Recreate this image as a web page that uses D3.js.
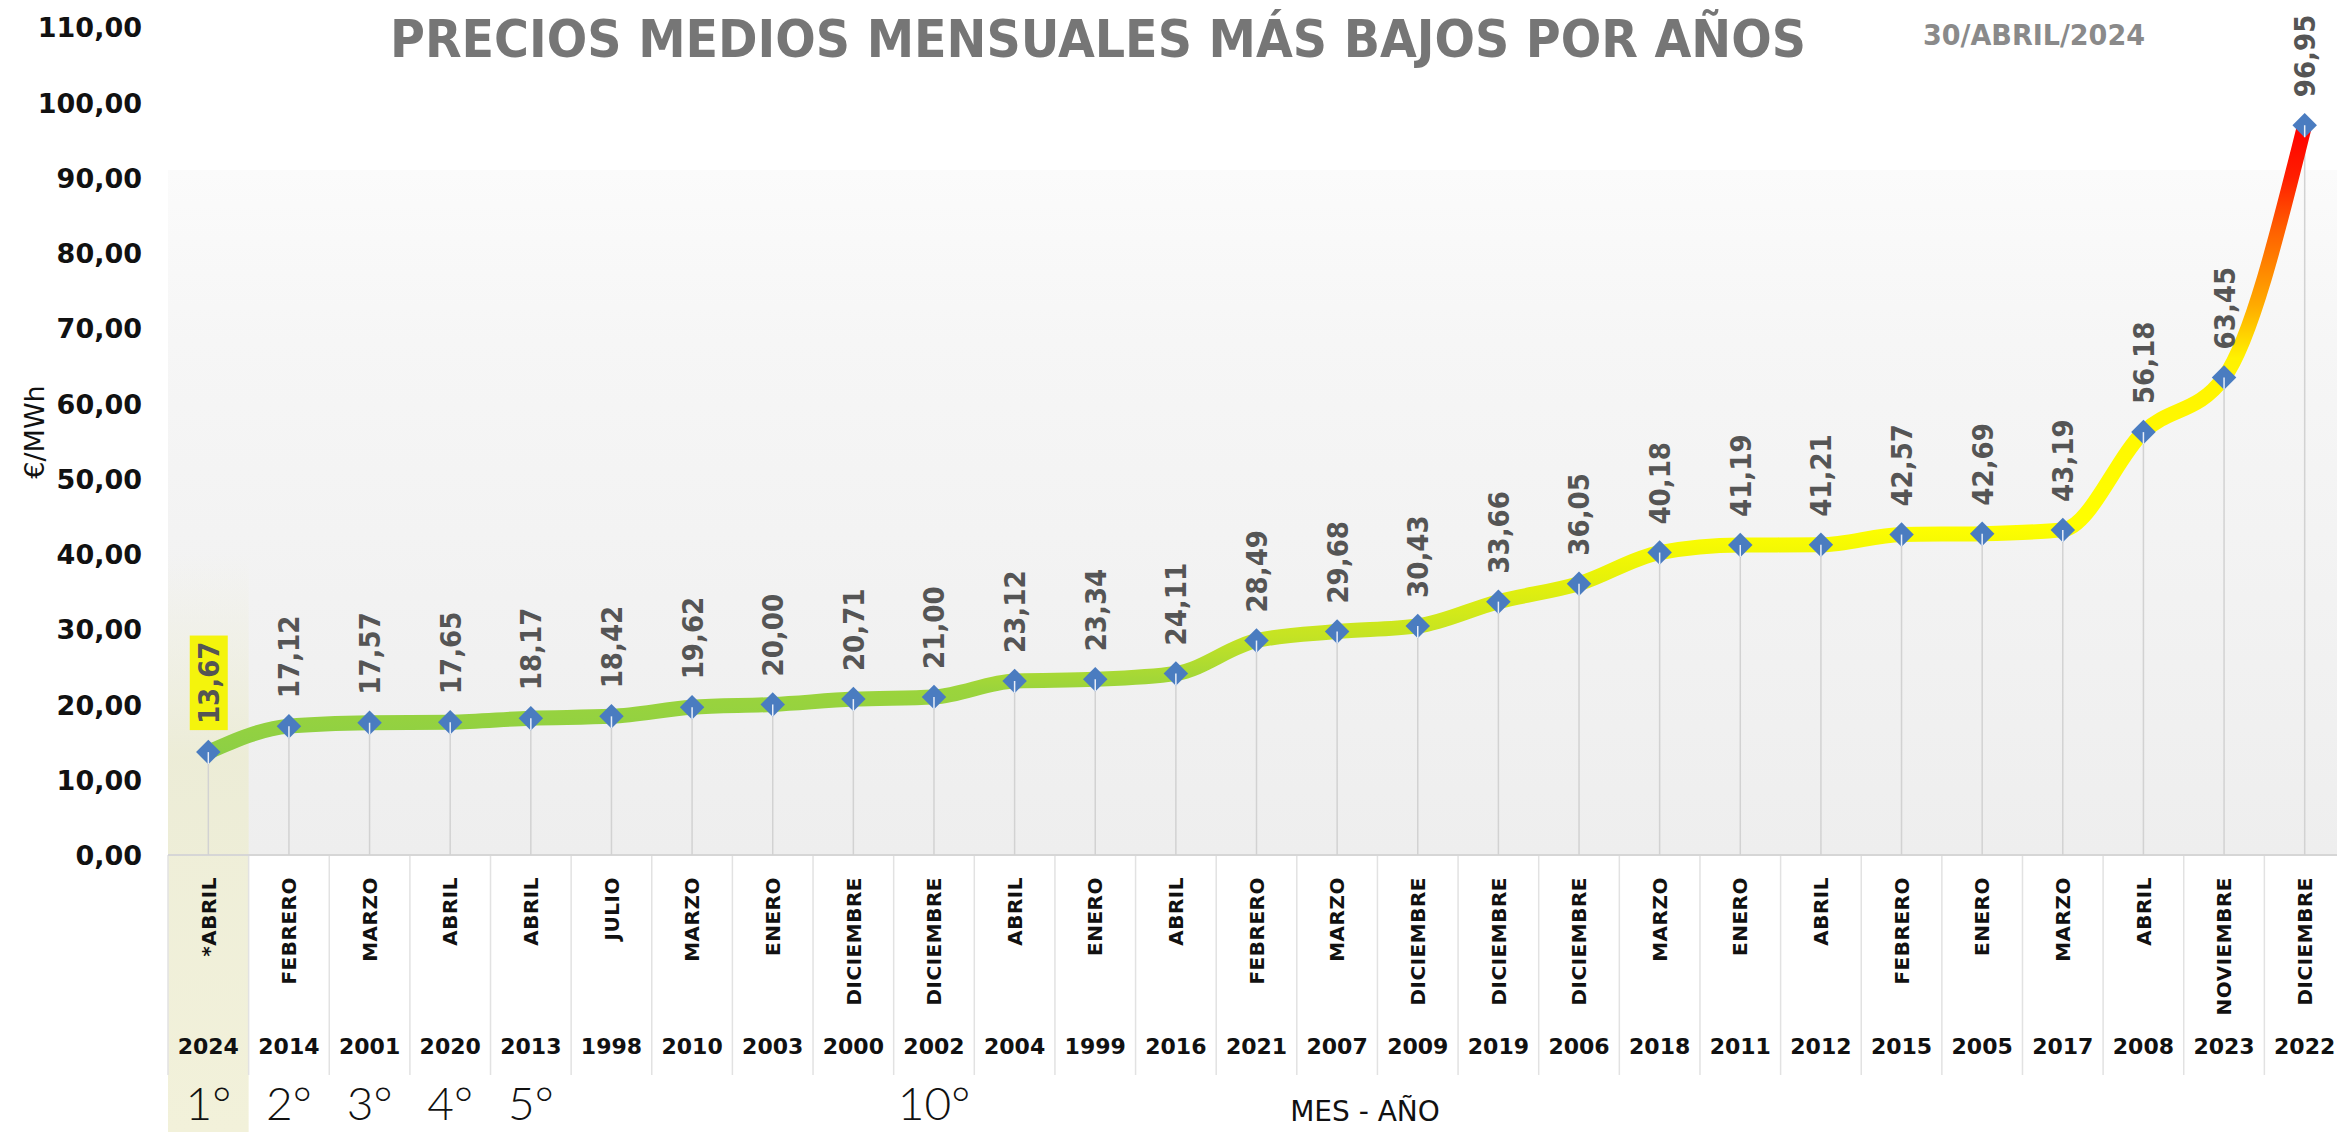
<!DOCTYPE html>
<html lang="es">
<head>
<meta charset="utf-8">
<script src="https://cdn.jsdelivr.net/npm/d3@7"></script>
<style>
  html, body { margin: 0; padding: 0; background: #ffffff; }
  svg { display: block; }
  .tick-label { font-family: "DejaVu Sans", sans-serif; font-weight: bold; font-size: 27px; fill: #111; }
  .value-label { font-family: "DejaVu Sans", sans-serif; font-weight: bold; font-size: 29px; fill: #555; }
  .month-label { font-family: "DejaVu Sans", sans-serif; font-weight: bold; font-size: 20px; fill: #111; letter-spacing: 0.5px; }
  .year-label { font-family: "DejaVu Sans", sans-serif; font-weight: bold; font-size: 22px; fill: #111; }
  .rank-label { font-family: Lato, "DejaVu Sans", sans-serif; font-weight: 300; font-size: 46px; fill: #111; }
</style>
</head>
<body>
<div id="chart"></div>
<script>
const months = ["*ABRIL", "FEBRERO", "MARZO", "ABRIL", "ABRIL", "JULIO", "MARZO", "ENERO", "DICIEMBRE",
  "DICIEMBRE", "ABRIL", "ENERO", "ABRIL", "FEBRERO", "MARZO", "DICIEMBRE", "DICIEMBRE", "DICIEMBRE",
  "MARZO", "ENERO", "ABRIL", "FEBRERO", "ENERO", "MARZO", "ABRIL", "NOVIEMBRE", "DICIEMBRE"];
const years = ["2024", "2014", "2001", "2020", "2013", "1998", "2010", "2003", "2000", "2002", "2004",
  "1999", "2016", "2021", "2007", "2009", "2019", "2006", "2018", "2011", "2012", "2015", "2005",
  "2017", "2008", "2023", "2022"];
const prices = [13.67, 17.12, 17.57, 17.65, 18.17, 18.42, 19.62, 20.00, 20.71, 21.00, 23.12, 23.34,
  24.11, 28.49, 29.68, 30.43, 33.66, 36.05, 40.18, 41.19, 41.21, 42.57, 42.69, 43.19, 56.18, 63.45, 96.95];
const ranks = ["1°", "2°", "3°", "4°", "5°", "", "", "", "", "10°"];
const yTicks = [0, 10, 20, 30, 40, 50, 60, 70, 80, 90, 100, 110];

const WIDTH = 2337;
const HEIGHT = 1132;
const PLOT_LEFT = 168;
const PLOT_RIGHT = 2345;
const BASELINE = 855;
const PLOT_TOP = 27;

const fmt = (v) => v.toFixed(2).replace(".", ",");

const svg = d3.select("#chart").append("svg")
  .attr("width", WIDTH).attr("height", HEIGHT)
  .attr("viewBox", `0 0 ${WIDTH} ${HEIGHT}`);

const x = d3.scaleBand().domain(d3.range(prices.length)).range([PLOT_LEFT, PLOT_RIGHT]).padding(0);
const y = d3.scaleLinear().domain([0, 110]).range([BASELINE, PLOT_TOP]);
const cx = (i) => x(i) + x.bandwidth() / 2;

const defs = svg.append("defs");

const bgGrad = defs.append("linearGradient").attr("id", "plot-bg")
  .attr("x1", 0).attr("y1", 0).attr("x2", 0).attr("y2", 1);
bgGrad.append("stop").attr("offset", 0).attr("stop-color", "#fbfbfb");
bgGrad.append("stop").attr("offset", 0.25).attr("stop-color", "#f6f6f6");
bgGrad.append("stop").attr("offset", 1).attr("stop-color", "#eeeeee");

const hiGrad = defs.append("linearGradient").attr("id", "first-col")
  .attr("x1", 0).attr("y1", 0).attr("x2", 0).attr("y2", 1);
hiGrad.append("stop").attr("offset", 0).attr("stop-color", "#f0f0dc").attr("stop-opacity", 0);
hiGrad.append("stop").attr("offset", 0.35).attr("stop-color", "#ececd4").attr("stop-opacity", 0.9);
hiGrad.append("stop").attr("offset", 1).attr("stop-color", "#f2f1da").attr("stop-opacity", 1);

// line colour follows the value: green low, yellow mid, red at the top
const lineGrad = defs.append("linearGradient").attr("id", "line-grad")
  .attr("gradientUnits", "userSpaceOnUse")
  .attr("x1", 0).attr("x2", 0).attr("y1", y(13)).attr("y2", y(97));
[[13, "#8ccf45"], [22, "#9bd43c"], [29, "#c4e324"], [38, "#ecf406"], [44, "#ffff00"],
 [66, "#fff200"], [73, "#ffab00"], [83, "#ff6000"], [90, "#ff1e00"], [97, "#ff0000"]]
  .forEach(([v, c]) => {
    lineGrad.append("stop").attr("offset", (v - 13) / (97 - 13)).attr("stop-color", c);
  });

// backgrounds
svg.append("rect").attr("x", PLOT_LEFT).attr("y", y(91))
  .attr("width", WIDTH - PLOT_LEFT).attr("height", BASELINE - y(91))
  .attr("fill", "url(#plot-bg)");

svg.append("rect").attr("x", x(0)).attr("y", y(40))
  .attr("width", x.bandwidth()).attr("height", HEIGHT - y(40))
  .attr("fill", "url(#first-col)");

// column separators in the category table
svg.append("g").selectAll("line")
  .data(d3.range(prices.length + 1))
  .join("line")
  .attr("x1", (i) => PLOT_LEFT + i * x.bandwidth())
  .attr("x2", (i) => PLOT_LEFT + i * x.bandwidth())
  .attr("y1", BASELINE).attr("y2", 1075)
  .attr("stroke", "#e2e2e2").attr("stroke-width", 1.5);

// baseline
svg.append("line").attr("x1", PLOT_LEFT).attr("x2", WIDTH)
  .attr("y1", BASELINE).attr("y2", BASELINE)
  .attr("stroke", "#d6d6d6").attr("stroke-width", 2);

// y axis labels
const yAxis = svg.append("g").attr("transform", `translate(${PLOT_LEFT},0)`)
  .call(d3.axisLeft(y).tickValues(yTicks).tickSize(0).tickPadding(26).tickFormat(fmt));
yAxis.select(".domain").remove();
yAxis.selectAll("text").attr("class", "tick-label").attr("font-family", null).attr("font-size", null)
  .attr("dy", "0.36em");

svg.append("text")
  .attr("transform", `translate(44,432) rotate(-90)`)
  .attr("text-anchor", "middle")
  .attr("font-family", "'DejaVu Sans', sans-serif").attr("font-size", 27).attr("fill", "#111")
  .text("€/MWh");

// title and date
svg.append("text").attr("x", 390).attr("y", 57)
  .attr("textLength", 1416).attr("lengthAdjust", "spacingAndGlyphs")
  .attr("font-family", "'DejaVu Sans', sans-serif").attr("font-weight", "bold")
  .attr("font-size", 52).attr("fill", "#767676")
  .text("PRECIOS MEDIOS MENSUALES MÁS BAJOS POR AÑOS");

svg.append("text").attr("x", 1923).attr("y", 45)
  .attr("textLength", 222).attr("lengthAdjust", "spacingAndGlyphs")
  .attr("font-family", "'DejaVu Sans', sans-serif").attr("font-weight", "bold")
  .attr("font-size", 28).attr("fill", "#8a8a8a")
  .text("30/ABRIL/2024");

// drop lines
svg.append("g").selectAll("line")
  .data(prices)
  .join("line")
  .attr("x1", (d, i) => cx(i)).attr("x2", (d, i) => cx(i))
  .attr("y1", (d) => y(d)).attr("y2", BASELINE)
  .attr("stroke", "#d2d2d2").attr("stroke-width", 1.5);

// smoothed price line
const line = d3.line()
  .x((d, i) => cx(i))
  .y((d) => y(d))
  .curve(d3.curveMonotoneX);

svg.append("path").datum(prices)
  .attr("d", line)
  .attr("fill", "none")
  .attr("stroke", "url(#line-grad)")
  .attr("stroke-width", 15)
  .attr("stroke-linecap", "round")
  .attr("stroke-linejoin", "round");

// diamond markers
const markers = svg.append("g").selectAll("g")
  .data(prices)
  .join("g")
  .attr("transform", (d, i) => `translate(${cx(i)},${y(d)})`);

markers.append("path")
  .attr("d", d3.symbol().type(d3.symbolSquare).size(300))
  .attr("transform", "rotate(45)")
  .attr("fill", "#4a7cc0");

markers.append("line")
  .attr("x1", 0).attr("x2", 0).attr("y1", 0).attr("y2", 12)
  .attr("stroke", "#e8eef8").attr("stroke-width", 1.5);

// value labels (squeezed a little, the original face is narrower)
const labels = svg.append("g").selectAll("g")
  .data(prices)
  .join("g")
  .attr("transform", (d, i) => `translate(${cx(i)},${y(d) - 28}) rotate(-90)`);

labels.each(function (d, i) {
  const g = d3.select(this);
  const t = g.append("text")
    .attr("class", "value-label")
    .attr("dy", "0.36em")
    .text(fmt(d));
  const len = t.node().getComputedTextLength();
  t.attr("textLength", len * 0.9).attr("lengthAdjust", "spacingAndGlyphs");
  if (i === 0) {
    const b = t.node().getBBox();
    g.insert("rect", "text")
      .attr("x", b.x - 6).attr("y", b.y - 2)
      .attr("width", b.width + 12).attr("height", b.height + 4)
      .attr("fill", "#f4f40c");
    t.attr("fill", "#6a6a4a");
  }
});

// category table
svg.append("g").selectAll("text")
  .data(months)
  .join("text")
  .attr("class", "month-label")
  .attr("transform", (d, i) => `translate(${cx(i)},877) rotate(-90)`)
  .attr("text-anchor", "end")
  .attr("dy", "0.36em")
  .text((d) => d);

svg.append("g").selectAll("text")
  .data(years)
  .join("text")
  .attr("class", "year-label")
  .attr("x", (d, i) => cx(i))
  .attr("y", 1054)
  .attr("text-anchor", "middle")
  .text((d) => d);

svg.append("g").selectAll("text")
  .data(ranks)
  .join("text")
  .attr("class", "rank-label")
  .attr("x", (d, i) => cx(i))
  .attr("y", 1120)
  .attr("text-anchor", "middle")
  .text((d) => d);

svg.append("text")
  .attr("x", 1365).attr("y", 1121)
  .attr("text-anchor", "middle")
  .attr("font-family", "'DejaVu Sans', sans-serif").attr("font-size", 28).attr("fill", "#111")
  .text("MES - AÑO");
</script>
</body>
</html>
